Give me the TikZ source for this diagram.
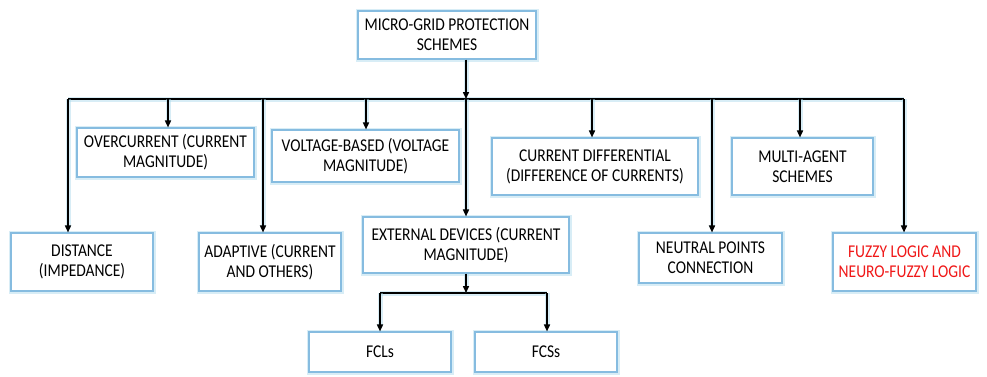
\documentclass[tikz,border=0pt]{standalone}
\usepackage{fontspec}
\setmainfont[FakeStretch=0.86]{Carlito}
\usetikzlibrary{arrows.meta}
\definecolor{boxline}{HTML}{86BCE0}
\definecolor{glowc}{HTML}{A8D8EA}
\definecolor{fuzzyred}{HTML}{F01818}
\begin{document}
\begin{tikzpicture}[x=1pt,y=-1pt,
  box/.style={draw=boxline, line width=1.1pt, fill=white, align=center,
    inner sep=2pt, font=\fontsize{18}{20}\selectfont,
    preaction={draw=glowc, line width=5pt, opacity=0.45}},
  conn/.style={draw=black, line width=1.5pt,
    preaction={draw=glowc, line width=5pt, opacity=0.45}},
  arr/.style={conn, -{Triangle[length=7pt,width=6pt]}}
]
\useasboundingbox (0,0) rectangle (987,376);
% boxes
\node[box, minimum width=178pt, minimum height=48pt] (root) at (447,35) {MICRO-GRID PROTECTION\\SCHEMES};
\node[box, minimum width=177pt, minimum height=49pt] (over) at (165.5,152.5) {OVERCURRENT (CURRENT\\MAGNITUDE)};
\node[box, minimum width=187pt, minimum height=52pt] (volt) at (365.5,156) {VOLTAGE-BASED (VOLTAGE\\MAGNITUDE)};
\node[box, minimum width=206pt, minimum height=57pt] (cdiff) at (595,166.5) {CURRENT DIFFERENTIAL\\(DIFFERENCE OF CURRENTS)};
\node[box, minimum width=141pt, minimum height=57pt] (multi) at (802.5,166.5) {MULTI-AGENT\\SCHEMES};
\node[box, minimum width=142pt, minimum height=58pt] (dist) at (82,262) {DISTANCE\\(IMPEDANCE)};
\node[box, minimum width=142pt, minimum height=58pt] (adapt) at (270,262) {ADAPTIVE (CURRENT\\AND OTHERS)};
\node[box, minimum width=206pt, minimum height=56pt] (ext) at (466,245) {EXTERNAL DEVICES (CURRENT\\MAGNITUDE)};
\node[box, minimum width=143pt, minimum height=50pt] (neut) at (710.5,258) {NEUTRAL POINTS\\CONNECTION};
\node[box, minimum width=143pt, minimum height=58pt, text=fuzzyred] (fuzzy) at (904.5,262) {FUZZY LOGIC AND\\NEURO-FUZZY LOGIC};
\node[box, minimum width=142pt, minimum height=40pt] (fcl) at (380,352) {FCLs};
\node[box, minimum width=142pt, minimum height=40pt] (fcs) at (546,352) {FCSs};
% bus coordinates
\coordinate (bL) at (68,99);
\coordinate (bR) at (904,99);
\coordinate (bM) at (466,99);
\coordinate (bOver) at (168,99);
\coordinate (bAd) at (263,99);
\coordinate (bVolt) at (366,99);
\coordinate (bCd) at (592,99);
\coordinate (bNeut) at (712,99);
\coordinate (bMulti) at (800,99);
\coordinate (sM) at (466,293);
\coordinate (sL) at (380,293);
\coordinate (sR) at (547,293);
% connectors
\draw[conn] (bL) -- (bR);
\draw[arr] (root.south -| bM) -- (bM);
\draw[arr] (bL) -- (dist.north -| bL);
\draw[arr] (bOver) -- (over.north -| bOver);
\draw[arr] (bAd) -- (adapt.north -| bAd);
\draw[arr] (bVolt) -- (volt.north -| bVolt);
\draw[arr] (bM) -- (ext.north -| bM);
\draw[arr] (bCd) -- (cdiff.north -| bCd);
\draw[arr] (bNeut) -- (neut.north -| bNeut);
\draw[arr] (bMulti) -- (multi.north -| bMulti);
\draw[arr] (bR) -- (fuzzy.north -| bR);
\draw[conn] (sL) -- (sR);
\draw[arr] (ext.south -| sM) -- (sM);
\draw[arr] (sL) -- (fcl.north -| sL);
\draw[arr] (sR) -- (fcs.north -| sR);
\end{tikzpicture}
\end{document}
